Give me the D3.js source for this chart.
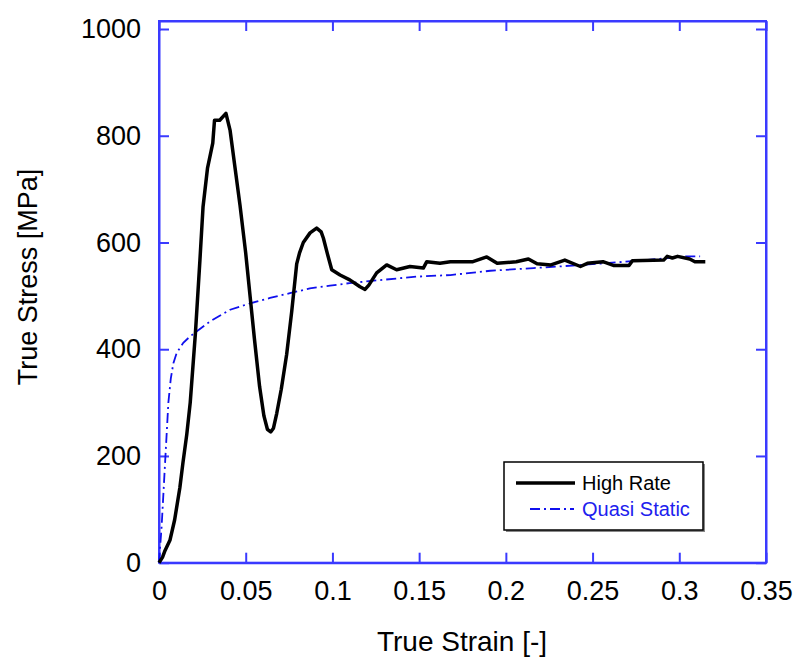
<!DOCTYPE html>
<html>
<head>
<meta charset="utf-8">
<script src="https://cdn.jsdelivr.net/npm/d3@7"></script>
<style>
  body { margin: 0; background: #fff; }
  text { font-family: "Liberation Sans", Arial, sans-serif; }
</style>
</head>
<body>
<div id="chart"></div>
<script>
// high rate test (black, solid)
const highRateStrain = [0, 0.002, 0.0035, 0.0063, 0.009, 0.012, 0.0138, 0.016, 0.018, 0.021, 0.0236, 0.0254, 0.028, 0.031, 0.032, 0.035, 0.0386, 0.041, 0.0438, 0.0467, 0.050, 0.0525, 0.055, 0.058, 0.0605, 0.0625, 0.0644, 0.066, 0.0679, 0.0705, 0.0736, 0.0765, 0.0794, 0.081, 0.0832, 0.0871, 0.0909, 0.0935, 0.0948, 0.097, 0.0996, 0.1044, 0.110, 0.1159, 0.1188, 0.121, 0.1255, 0.1313, 0.137, 0.1447, 0.1524, 0.1544, 0.162, 0.168, 0.181, 0.189, 0.195, 0.206, 0.213, 0.218, 0.226, 0.234, 0.243, 0.247, 0.256, 0.262, 0.271, 0.273, 0.291, 0.293, 0.296, 0.299, 0.306, 0.309, 0.315];
const highRateStress = [0, 10, 23, 42, 80, 140, 187, 240, 300, 430, 567, 667, 740, 786, 829, 829, 842, 810, 741, 670, 580, 500, 420, 330, 275, 250, 245, 252, 280, 325, 390, 470, 560, 580, 600, 618, 627, 620, 608, 580, 549, 539, 530, 517, 512, 520, 543, 558, 549, 555, 552, 564, 561, 564, 564, 573, 561, 564, 569, 560, 558, 567, 555, 561, 564, 557, 557, 566, 567, 574, 571, 574, 569, 564, 564];

// quasi static test (blue, dash-dot)
const quasiStrain = [0, 0.0015, 0.0035, 0.0054, 0.0068, 0.0083, 0.0102, 0.014, 0.0179, 0.0294, 0.041, 0.0525, 0.064, 0.0755, 0.087, 0.0986, 0.110, 0.129, 0.1486, 0.168, 0.191, 0.216, 0.2445, 0.277, 0.304, 0.312];
const quasiStress = [0, 67, 187, 300, 345, 374, 393, 412, 424, 452, 474, 486, 496, 505, 514, 519, 524, 530, 536, 539, 547, 552, 558, 566, 574, 574];

const xTicks = [0, 0.05, 0.1, 0.15, 0.2, 0.25, 0.3, 0.35];
const yTicks = [0, 200, 400, 600, 800, 1000];
const seriesNames = ["High Rate", "Quasi Static"];

const W = 800, H = 664;
const frame = "#3a3aff";

const svg = d3.select("#chart").append("svg")
  .attr("width", W).attr("height", H);

const x = d3.scaleLinear().domain([0, 0.35]).range([159, 766]);
const y = d3.scaleLinear().domain([0, 1015]).range([562.7, 21]);

// plain labels, no thousands separator
const fmt = d => String(d);

// axes with inward ticks on all four sides
svg.append("g")
  .attr("transform", `translate(0,${y(0)})`)
  .call(d3.axisBottom(x).tickValues(xTicks).tickFormat(fmt).tickSizeInner(-10).tickSizeOuter(0).tickPadding(18));
svg.append("g")
  .attr("transform", `translate(0,${y.range()[1]})`)
  .call(d3.axisTop(x).tickValues(xTicks).tickFormat("").tickSizeInner(-10).tickSizeOuter(0));
svg.append("g")
  .attr("transform", `translate(${x(0)},0)`)
  .call(d3.axisLeft(y).tickValues(yTicks).tickFormat(fmt).tickSizeInner(-10).tickSizeOuter(0).tickPadding(18));
svg.append("g")
  .attr("transform", `translate(${x(0.35)},0)`)
  .call(d3.axisRight(y).tickValues(yTicks).tickFormat("").tickSizeInner(-10).tickSizeOuter(0));

svg.selectAll(".domain").attr("stroke", frame).attr("stroke-width", 2);
svg.selectAll(".tick line").attr("stroke", frame).attr("stroke-width", 2);
svg.selectAll(".tick text").attr("fill", "#000").style("font-size", "27px")
  .style("font-family", "'Liberation Sans', Arial, sans-serif");

// frame border
svg.append("rect")
  .attr("x", x(0)).attr("y", y.range()[1])
  .attr("width", x(0.35) - x(0)).attr("height", y(0) - y.range()[1])
  .attr("fill", "none").attr("stroke", frame).attr("stroke-width", 2);

const line = d3.line().x(d => x(d[0])).y(d => y(d[1]));

svg.append("path")
  .datum(quasiStrain.map((s, i) => [s, quasiStress[i]]))
  .attr("d", line)
  .attr("fill", "none").attr("stroke", "#1010ee")
  .attr("stroke-width", 1.8).attr("stroke-dasharray", "10,4,2,4");

svg.append("path")
  .datum(highRateStrain.map((s, i) => [s, highRateStress[i]]))
  .attr("d", line)
  .attr("fill", "none").attr("stroke", "#000")
  .attr("stroke-width", 3.5).attr("stroke-linejoin", "round");

// axis titles
svg.append("text")
  .attr("x", 462).attr("y", 651)
  .attr("text-anchor", "middle").style("font-size", "28px")
  .text("True Strain [-]");
svg.append("text")
  .attr("transform", "translate(37,277) rotate(-90)")
  .attr("text-anchor", "middle").style("font-size", "27px")
  .text("True Stress [MPa]");

// legend
const lg = svg.append("g");
lg.append("rect").attr("x", 506).attr("y", 464).attr("width", 199).attr("height", 68).attr("fill", "#888");
lg.append("rect").attr("x", 504).attr("y", 462).attr("width", 199).attr("height", 68)
  .attr("fill", "#fff").attr("stroke", "#000").attr("stroke-width", 1.5);
lg.append("line").attr("x1", 516).attr("x2", 575).attr("y1", 483).attr("y2", 483)
  .attr("stroke", "#000").attr("stroke-width", 3.5);
lg.append("line").attr("x1", 530).attr("x2", 574).attr("y1", 509).attr("y2", 509)
  .attr("stroke", "#1010ee").attr("stroke-width", 1.8).attr("stroke-dasharray", "10,4,2,4");
lg.append("text").attr("x", 582).attr("y", 490).style("font-size", "20px").attr("fill", "#000").text(seriesNames[0]);
lg.append("text").attr("x", 582).attr("y", 516).style("font-size", "20px").attr("fill", "#2020ee").text(seriesNames[1]);
</script>
</body>
</html>
